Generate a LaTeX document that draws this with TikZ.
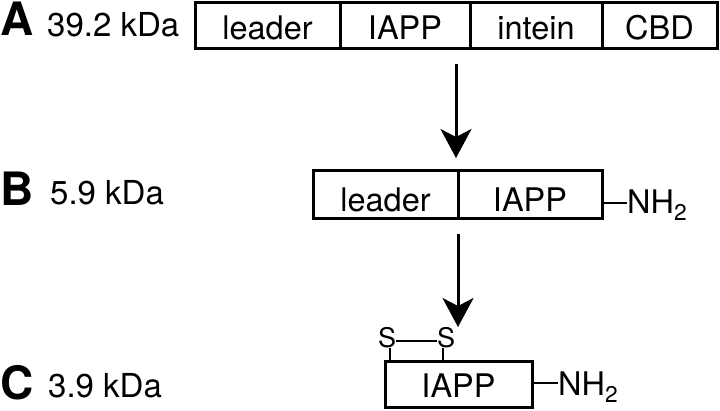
\documentclass[tikz,border=0pt]{standalone}
\usepackage{fontspec}
\setmainfont{TeX Gyre Heros}
\usetikzlibrary{arrows.meta}
\begin{document}
\begin{tikzpicture}[x=1pt,y=-1pt,
  seg/.style={draw,line width=3pt,inner sep=0pt,minimum height=46pt},
  txt/.style={inner sep=0pt,font=\fontsize{32.5}{38}\selectfont},
  lett/.style={inner sep=0pt,anchor=base west,font=\fontsize{46}{50}\selectfont\bfseries},
  mass/.style={inner sep=0pt,anchor=base west,font=\fontsize{33}{38}\selectfont},
  sat/.style={inner sep=0pt,anchor=base,font=\fontsize{27}{32}\selectfont},
  bond/.style={line width=2.6pt},
  flow/.style={line width=3pt,-{Stealth[length=29pt,width=31pt,inset=8pt]}}]
\useasboundingbox (0,0) rectangle (720,410);
% Row A
\node[lett] (la) at (0,35) {A};
\node[mass] (ma) at (47,36.5) {39.2 kDa};
\node[seg,minimum width=145pt] (a1) at (267.5,25) {};
\node[seg,minimum width=130pt] (a2) at (405,25) {};
\node[seg,minimum width=132pt] (a3) at (536,25) {};
\node[seg,minimum width=115pt] (a4) at (659.5,25) {};
\node[txt] (ta1) at ([yshift=-3pt]a1.center) {leader};
\node[txt] (ta2) at ([yshift=-3pt]a2.center) {IAPP};
\node[txt] (ta3) at ([yshift=-3pt]a3.center) {intein};
\node[txt] (ta4) at ([yshift=-3pt]a4.center) {CBD};
% Row B
\node[lett] (lb) at (0,205) {B};
\node[mass] (mb) at (50,204) {5.9 kDa};
\node[seg,minimum width=145pt,minimum height=48pt] (b1) at (385.5,194) {};
\node[seg,minimum width=144pt,minimum height=48pt] (b2) at (530,194) {};
\node[txt] (tb1) at ([yshift=-6pt]b1.center) {leader};
\node[txt] (tb2) at ([yshift=-6pt]b2.center) {IAPP};
\node[txt,anchor=base west] (nb) at (627,213) {NH\textsubscript{2}};
\draw[bond] (b2.east |- 0,203) -- (nb.west |- 0,203);
% Row C
\node[lett] (lc) at (0,399) {C};
\node[mass] (mc) at (48,397) {3.9 kDa};
\node[seg,minimum width=147pt] (c1) at (458.5,384) {};
\node[txt] (tc1) at ([yshift=-2pt]c1.center) {IAPP};
\node[txt,anchor=base west] (nc) at (558,395) {NH\textsubscript{2}};
\draw[bond] (c1.east |- 0,383) -- (nc.west |- 0,383);
\node[sat] (s1) at (387,347) {S};
\node[sat] (s2) at (446,347) {S};
\draw[bond] (s1.east |- 0,341) -- (s2.west |- 0,341);
\draw[bond] (s1.south -| 390,0) -- (c1.north -| 390,0);
\draw[bond] (s2.south -| 443,0) -- (c1.north -| 443,0);
% Arrows
\coordinate (e1) at (456,158);
\coordinate (e2) at (458,327);
\draw[flow] (a2.south -| 456,0) ++(0,14) -- (e1);
\draw[flow] (b2.south -| 458,0) ++(0,14) -- (e2);
\end{tikzpicture}
\end{document}
